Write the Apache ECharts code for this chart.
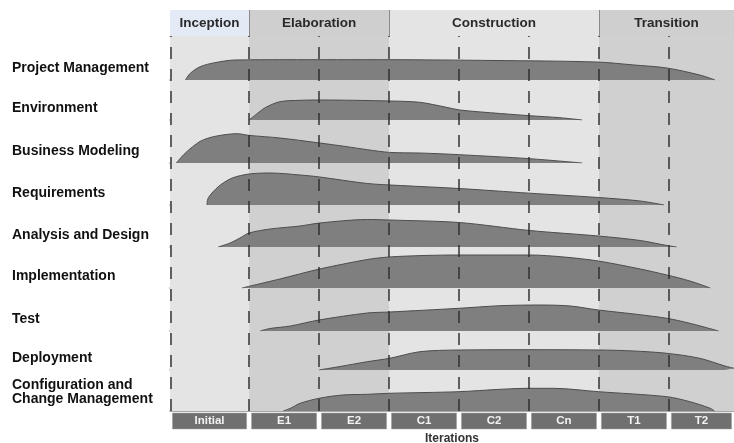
<!DOCTYPE html>
<html><head><meta charset="utf-8">
<script src="https://cdn.jsdelivr.net/npm/echarts@6/dist/echarts.min.js"></script>
<style>html,body{margin:0;padding:0;background:#fff}#c{width:734px;height:443px}</style>
</head><body><div id="c"></div><script>
// ---------- data ----------
const phases = ['Inception', 'Elaboration', 'Construction', 'Transition'];
const phaseIterationCounts = [1, 2, 3, 2];
const iterations = ['Initial', 'E1', 'E2', 'C1', 'C2', 'Cn', 'T1', 'T2'];
const workflows = ['Project Management', 'Environment', 'Business Modeling', 'Requirements',
  'Analysis and Design', 'Implementation', 'Test', 'Deployment', 'Configuration and\nChange Management'];
const axisTitle = 'Iterations';

// effort humps: [iteration position, relative effort]
const projectManagement = [[0.09,0],[0.16,6.7],[0.3,13.3],[0.51,17.3],[0.8,20],[1.5,20.3],[3,20.3],[4.5,19.5],[5.97,18],[6.5,15],[6.97,12],[7.44,5],[7.66,0]];
const environment = [[1,0],[1.09,5],[1.23,12.3],[1.44,18.3],[1.73,19.7],[2.01,20],[3.01,19],[3.44,17.7],[3.8,13],[4.01,10],[4.59,6.5],[5.01,4.3],[5.44,2.3],[5.76,0]];
const businessModeling = [[-0.04,0],[0.09,10],[0.3,21.6],[0.51,26.6],[0.83,29.3],[1.0,27.6],[1.44,25],[2.01,20],[2.37,16.6],[2.69,13.3],[3.01,10.6],[3.44,10],[4.01,8.3],[5.01,4.3],[5.76,0]];
const requirements = [[0.4,0],[0.41,6],[0.47,12],[0.59,20],[0.76,27],[1.0,31],[1.3,32],[1.73,30],[2.01,28],[2.69,21.5],[3.16,19.5],[4.0,16.5],[5.01,11.8],[5.99,7.5],[6.59,4],[6.93,0]];
const analysisDesign = [[0.56,0],[0.73,4],[0.87,9],[1.0,14],[1.3,18],[1.73,21],[2.01,24],[2.69,27.5],[3.0,27],[4.0,24.5],[5.01,16.5],[5.99,11],[6.59,6.5],[6.97,1.5],[7.11,0]];
const implementation = [[0.9,0],[1.44,9],[2.01,19],[2.69,28.5],[3.0,31],[3.5,32.5],[4.0,33],[5.01,33],[5.5,31],[5.99,27],[6.59,19],[6.97,13],[7.3,7],[7.59,0]];
const test = [[1.16,0],[1.3,2.5],[1.59,5],[2.0,11],[2.69,18],[3.01,19],[4.0,22.7],[4.59,25.3],[5.16,26],[5.59,25],[5.99,21],[6.5,17],[6.97,12.7],[7.3,7.7],[7.71,0]];
const deployment = [[2.0,0],[2.3,3.5],[2.69,8.3],[3.01,11.7],[3.44,18.3],[4.0,20],[5.0,20.3],[6.0,20],[6.5,19],[6.97,16.7],[7.44,11.7],[7.8,4],[7.93,1.7]];
const configChange = [[1.49,0],[1.6,3],[1.73,7.7],[2.0,12.7],[2.34,16],[2.69,16.7],[3.0,17.7],[4.0,19.3],[4.59,21.7],[5.01,22.7],[5.35,22.7],[5.99,19.3],[6.97,14.3],[7.3,9.3],[7.59,2.7],[7.65,0]];
const workflowEfforts = [projectManagement, environment, businessModeling, requirements,
  analysisDesign, implementation, test, deployment, configChange];

// ---------- layout / style ----------
const FONT = 'Liberation Sans';
const xMin = -0.13, xMax = 7.93;
const plotLeft = 170;
const headerTop = 10, headerBottom = 36;
const rowBaselines = [80, 120, 163, 205, 247, 288, 331, 370, 411];
const rowHeight = 40;
const headerColors = ['#e3eaf6', '#cfcfcf', '#e4e4e4', '#cfcfcf'];
const columnColors = ['#e4e4e4', '#d0d0d0', '#e4e4e4', '#d0d0d0'];
const boxInset = 0.035;

const edge = k => (k <= 0 ? xMin : (k >= iterations.length ? xMax : k));
const phaseRanges = [];
{ let s = 0; phaseIterationCounts.forEach(c => { phaseRanges.push([edge(s), edge(s + c)]); s += c; }); }

const grid = [], xAxis = [], yAxis = [], series = [];
function addGrid(top, height, xOpt, yOpt) {
  grid.push({ left: plotLeft, right: 0, top, height, containLabel: false, outerBoundsMode: 'none' });
  const i = grid.length - 1;
  xAxis.push(Object.assign({ gridIndex: i, type: 'value', min: xMin, max: xMax, show: false }, xOpt || {}));
  yAxis.push(Object.assign({ gridIndex: i, type: 'value', min: 0, max: 1, show: false }, yOpt || {}));
  return i;
}

// header
const gH = addGrid(headerTop, headerBottom - headerTop, {
  show: true, axisLine: { show: true, lineStyle: { color: '#9a9a9a', width: 1 } },
  axisTick: { show: false }, axisLabel: { show: false }, splitLine: { show: false }
});
series.push({
  type: 'line', xAxisIndex: gH, yAxisIndex: gH, data: [[xMin, 0]], symbol: 'none', lineStyle: { width: 0 }, silent: true, z: 1,
  markArea: { silent: true, data: phases.map((p, i) => [
    { name: p, xAxis: phaseRanges[i][0], itemStyle: { color: headerColors[i] },
      label: { show: true, position: 'inside', color: '#2a2a2a', fontFamily: FONT, fontSize: 13.5, fontWeight: 'bold' } },
    { xAxis: phaseRanges[i][1] }]) },
  markLine: { silent: true, symbol: 'none', label: { show: false },
    lineStyle: { type: 'solid', color: '#8a8a8a', width: 1 },
    data: phaseRanges.slice(1).map(r => ({ xAxis: r[0] })) }
});

// background columns + dashed iteration lines
const gB = addGrid(headerBottom, rowBaselines[rowBaselines.length - 1] - headerBottom);
series.push({
  type: 'line', xAxisIndex: gB, yAxisIndex: gB, data: [[xMin, 0]], symbol: 'none', lineStyle: { width: 0 }, silent: true, z: 1,
  markArea: { silent: true, data: phases.map((p, i) => [
    { xAxis: phaseRanges[i][0], itemStyle: { color: columnColors[i] } }, { xAxis: phaseRanges[i][1] }]) }
});
series.push({
  type: 'line', xAxisIndex: gB, yAxisIndex: gB, data: [[xMin, 0]], symbol: 'none', lineStyle: { width: 0 }, silent: true, z: 6,
  markLine: { silent: true, symbol: 'none', label: { show: false },
    lineStyle: { type: [12, 10], color: '#2e2e2e', width: 1.6, opacity: 0.9 },
    data: iterations.map((it, k) => ({ xAxis: k === 0 ? xMin + 0.01 : k })) }
});

// workflow rows
workflows.forEach((name, i) => {
  const base = rowBaselines[i];
  const labelAt = name.indexOf('\n') >= 0 ? 19 : 12;
  const g = addGrid(base - rowHeight, rowHeight, {
    show: true, axisLine: { show: true, onZero: false, lineStyle: { color: '#8a8a8a', width: 1.5 } },
    axisTick: { show: false }, axisLabel: { show: false }, splitLine: { show: false }
  }, {
    show: true, max: rowHeight, interval: 1, axisLine: { show: false }, axisTick: { show: false }, splitLine: { show: false },
    axisLabel: { show: true, margin: plotLeft - 12, align: 'left', color: '#111', fontFamily: FONT, fontSize: 14,
      fontWeight: 'bold', lineHeight: 14.5, formatter: v => (v === labelAt ? name : '') }
  });
  series.push({
    type: 'line', name, xAxisIndex: g, yAxisIndex: g, data: workflowEfforts[i], smooth: 0.3,
    symbol: 'none', silent: true, z: 3,
    lineStyle: { color: '#4d4d4d', width: 1 }, areaStyle: { color: '#7f7f7f', opacity: 1 }
  });
});

// iteration boxes
const gI = addGrid(413, 16, {
  show: true, axisLine: { show: false }, axisTick: { show: false }, axisLabel: { show: false }, splitLine: { show: false },
  name: axisTitle, nameLocation: 'middle', nameGap: 4,
  nameTextStyle: { color: '#333', fontFamily: FONT, fontSize: 12, fontWeight: 'bold' }
});
series.push({
  type: 'line', xAxisIndex: gI, yAxisIndex: gI, data: [[xMin, 0]], symbol: 'none', lineStyle: { width: 0 }, silent: true, z: 2,
  markArea: { silent: true, data: iterations.map((it, k) => [
    { name: it, xAxis: edge(k) + boxInset, yAxis: 0, itemStyle: { color: '#707070', borderColor: '#a0a0a0', borderWidth: 0.5 },
      label: { show: true, position: 'inside', color: '#f2f2f2', fontFamily: FONT, fontSize: 11.5, fontWeight: 'bold' } },
    { xAxis: edge(k + 1) - boxInset, yAxis: 1 }]) }
});

const chart = echarts.init(document.getElementById('c'), null, { renderer: 'canvas' });
chart.setOption({ animation: false, backgroundColor: '#fff', grid, xAxis, yAxis, series });
</script></body></html>
